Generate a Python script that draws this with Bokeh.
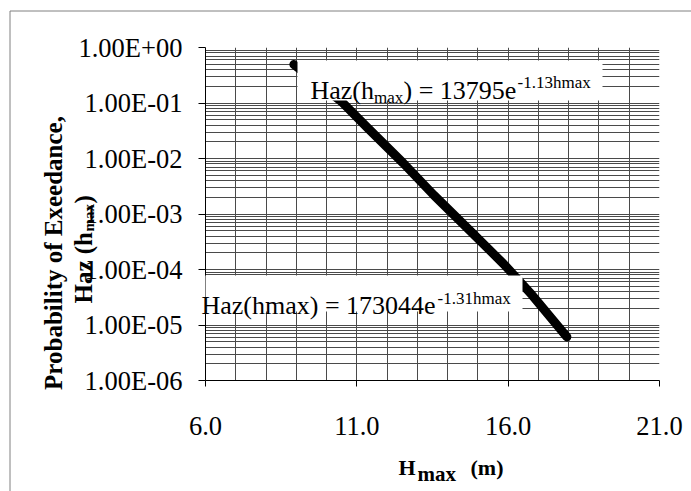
from bokeh.plotting import figure
from bokeh.models import FixedTicker, BoxAnnotation, Range1d
from bokeh.core.properties import value
from bokeh.embed import file_html
from bokeh.resources import INLINE

# ---- data ----
hmax = [8.92, 10.52, 11.36, 12.53, 13.54, 14.75, 15.85, 16.79, 17.94]
haz = [0.494, 0.103, 0.0354, 8.3e-3, 2.2e-3, 4.94e-4, 1.26e-4, 3.47e-5, 6.1e-6]

x_ticks = [6, 11, 16, 21]
x_tick_labels = ["6.0", "11.0", "16.0", "21.0"]
y_ticks = [1e-6, 1e-5, 1e-4, 1e-3, 1e-2, 1e-1, 1e0]
y_tick_labels = ["1.00E-06", "1.00E-05", "1.00E-04", "1.00E-03",
                 "1.00E-02", "1.00E-01", "1.00E+00"]

FONT = "Liberation Serif"
W, H = 691, 491
FL, FT, FR, FB = 205, 47, 659, 380   # frame edges in page pixels

p = figure(width=W, height=H, y_axis_type="log",
           x_range=Range1d(6, 21), y_range=Range1d(1e-6, 1e0),
           output_backend="svg", toolbar_location=None,
           min_border_left=FL, min_border_top=FT,
           min_border_right=W - FR, min_border_bottom=H - FB)
p.outline_line_color = None
p.background_fill_color = "white"
p.border_fill_color = "white"

x_minor = [v for v in range(6, 22) if v not in x_ticks]
y_minor = [m * 10.0 ** e for e in range(-6, 0) for m in range(2, 10)]
p.xaxis.ticker = FixedTicker(ticks=x_ticks, minor_ticks=x_minor)
p.yaxis.ticker = FixedTicker(ticks=y_ticks, minor_ticks=y_minor)
p.xaxis.major_label_overrides = {t: s for t, s in zip(x_ticks, x_tick_labels)}
p.yaxis.major_label_overrides = {t: s for t, s in zip(y_ticks, y_tick_labels)}

for ax in (p.xaxis[0], p.yaxis[0]):
    ax.axis_line_color = "black"
    ax.axis_line_width = 1
    ax.major_tick_line_color = "black"
    ax.major_tick_in = 0
    ax.minor_tick_line_color = None
    ax.major_label_text_font = FONT
    ax.major_label_text_font_size = "26.5px"
    ax.major_label_text_color = "black"
p.xaxis.major_tick_out = 6
p.xaxis.major_label_standoff = 30
p.yaxis.major_tick_out = 7
p.yaxis.major_label_standoff = 16

for g in (p.xgrid[0], p.ygrid[0]):
    g.grid_line_color = "#4a4a4a"
    g.grid_line_width = 1
    g.minor_grid_line_color = "#4a4a4a"
    g.minor_grid_line_width = 1

p.line(hmax, haz, line_width=9, color="black", line_cap="round", line_join="round")

# equation boxes (page pixel rectangles)
for (l, r, t, b) in [(297, 602, 60, 100), (197, 522, 275, 311)]:
    p.add_layout(BoxAnnotation(left=l, right=r, top=t, bottom=b,
                               left_units="canvas", right_units="canvas",
                               top_units="canvas", bottom_units="canvas",
                               fill_color="white", fill_alpha=1.0, line_color=None))


def px2x(px):
    return 6 + (px - FL) * 15.0 / (FR - FL)


def py2y(py):
    return 10 ** (-(py - FT) * 6.0 / (FB - FT))


# outer chart border (only its top and left edges fall inside the window)
p.segment(x0=[px2x(9.5), px2x(9.5)], y0=[py2y(10.5), py2y(10.5)],
          x1=[px2x(W + 20), px2x(9.5)], y1=[py2y(10.5), py2y(H + 20)],
          line_color="#808080", line_width=1, level="overlay")


def txt(text, px, py, size, bold=False, angle=0.0, align="left"):
    # anchored at frame's bottom-left corner, shifted by pixel offsets
    p.text(x=[6], y=[1e-6], text=[text], x_offset=px - FL, y_offset=py - FB,
           angle=angle, text_font=value(FONT), text_font_size=value(f"{size}px"),
           text_font_style="bold" if bold else "normal", text_color="black",
           text_align=align, text_baseline="alphabetic", level="overlay")


# equation 1
txt("Haz(h", 310, 90, 26)
txt("max", 373.5, 97, 17)
txt(") = 13795e", 403, 90, 26)
txt("-1.13hmax", 517, 82, 17)
# equation 2
txt("Haz(hmax) = 173044e", 201, 305, 26)
txt("-1.31hmax", 437, 298, 17)

# x axis title
txt("H", 398, 467, 22, bold=True)
txt("max", 417, 473, 21, bold=True)
txt("(m)", 470, 467, 22, bold=True)

# y axis title (rotated)
ROT = 1.5707963267948966
txt("Probability of Exeedance,", 53, 252.5, 25, bold=True, angle=ROT, align="center")
txt("Haz (h", 83, 303, 25, bold=True, angle=ROT)
txt("max", 88, 231, 15, bold=True, angle=ROT)
txt(")", 83, 203, 25, bold=True, angle=ROT)

open("out.html", "w").write(file_html(p, INLINE))
